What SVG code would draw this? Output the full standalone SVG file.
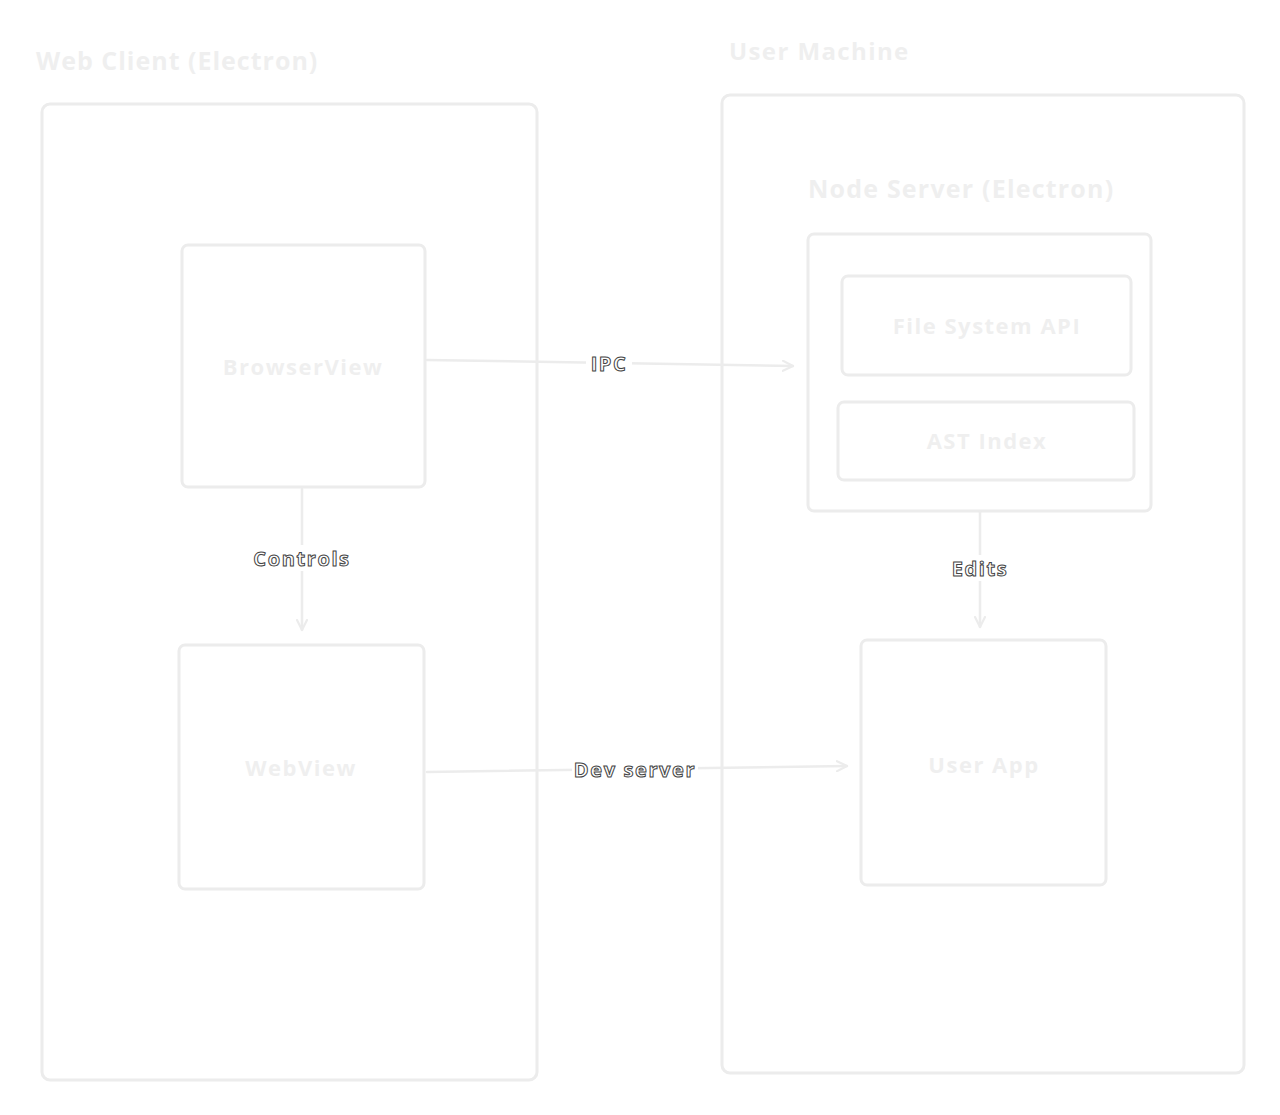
<svg xmlns="http://www.w3.org/2000/svg" width="1280" height="1115" viewBox="0 0 1280 1115">
<style>
.box{fill:none;stroke:#ececec;stroke-width:3;stroke-linejoin:round}
.title{font-family:"Open Sans","Liberation Sans",sans-serif;font-weight:bold;fill:#efefef;letter-spacing:1.4px}
.ntext{font-family:"Open Sans","Liberation Sans",sans-serif;font-weight:bold;font-size:22px;fill:#efefef;text-anchor:middle;dominant-baseline:central;letter-spacing:1.5px}
.edge{fill:none;stroke:#ececec;stroke-width:2.5;stroke-linecap:round}
.elabel{font-family:"Open Sans","Liberation Sans",sans-serif;font-weight:bold;font-size:20px;fill:#ffffff;stroke:#444;stroke-width:1;text-anchor:middle;dominant-baseline:central;letter-spacing:1.6px}
</style>
<defs>
<marker id="arr" viewBox="0 0 12 12" refX="11" refY="6" markerWidth="12" markerHeight="12" markerUnits="userSpaceOnUse" orient="auto">
<path d="M1,1 L11,6 L1,11" fill="none" stroke="#ececec" stroke-width="2.2" stroke-linecap="round" stroke-linejoin="round"/>
</marker>
</defs>
<rect width="1280" height="1115" fill="#ffffff"/>
<g id="web-client">
<text class="title" x="36" y="70" font-size="25" style="letter-spacing:1px">Web Client (Electron)</text>
<rect class="box" x="42" y="104" width="495" height="976" rx="8"/>
</g>
<g id="user-machine">
<text class="title" x="729" y="60" font-size="24">User Machine</text>
<rect class="box" x="722" y="95" width="522" height="978" rx="8"/>
</g>
<g id="node-server">
<text class="title" x="808" y="198" font-size="25" style="letter-spacing:1.2px">Node Server (Electron)</text>
<rect class="box" x="808" y="234" width="343" height="277" rx="6"/>
</g>
<g id="file-system-api">
<rect class="box" x="842" y="276" width="289" height="99" rx="6"/>
<text class="ntext" x="987" y="325">File System API</text>
</g>
<g id="ast-index">
<rect class="box" x="838" y="402" width="296" height="78" rx="6"/>
<text class="ntext" x="987" y="440">AST Index</text>
</g>
<g id="browserview">
<rect class="box" x="182" y="245" width="243" height="242" rx="6"/>
<text class="ntext" x="303" y="366">BrowserView</text>
</g>
<g id="webview">
<rect class="box" x="179" y="645" width="245" height="244" rx="6"/>
<text class="ntext" x="301" y="767">WebView</text>
</g>
<g id="user-app">
<rect class="box" x="861" y="640" width="245" height="245" rx="6"/>
<text class="ntext" x="984" y="764">User App</text>
</g>
<g id="connectors">
<path class="edge" d="M427,360 L793,366" marker-end="url(#arr)"/>
<path class="edge" d="M302,489 L302,630" marker-end="url(#arr)"/>
<path class="edge" d="M980,512 L980,627" marker-end="url(#arr)"/>
<path class="edge" d="M427,772 L847,766" marker-end="url(#arr)"/>
<rect x="586" y="350" width="46" height="26" fill="#ffffff"/>
<rect x="252" y="545" width="100" height="26" fill="#ffffff"/>
<rect x="948" y="555" width="64" height="26" fill="#ffffff"/>
<rect x="572" y="756" width="126" height="26" fill="#ffffff"/>
<text class="elabel" x="609" y="363">IPC</text>
<text class="elabel" x="302" y="558">Controls</text>
<text class="elabel" x="980" y="568">Edits</text>
<text class="elabel" x="635" y="769">Dev server</text>
</g>
</svg>
